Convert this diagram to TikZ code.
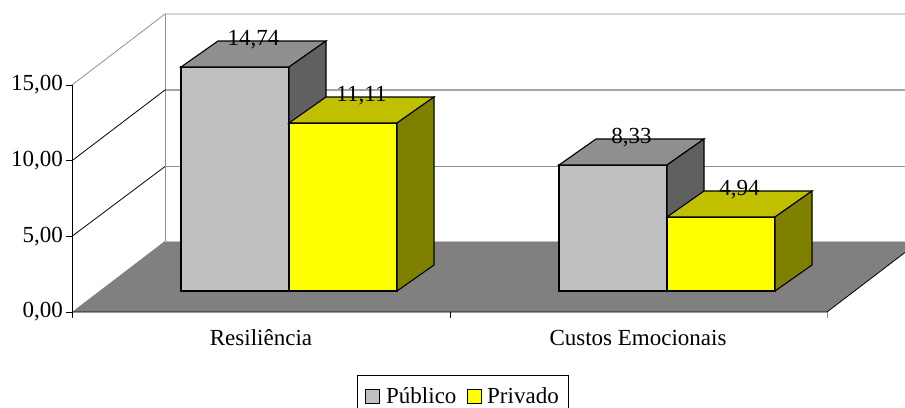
\documentclass[tikz,border=0pt]{standalone}
\usepackage{fontspec}
\setmainfont{Liberation Serif}
\definecolor{pubfront}{HTML}{C0C0C0}
\definecolor{pubtop}{HTML}{8F8F8F}
\definecolor{pubside}{HTML}{606060}
\definecolor{prifront}{HTML}{FFFF00}
\definecolor{pritop}{HTML}{C0C000}
\definecolor{priside}{HTML}{808000}
\definecolor{floorc}{HTML}{808080}
\definecolor{wallline}{HTML}{909090}
\newcommand\drawbar[5]{%
  \filldraw[barline, fill=#3] (#1,291) rectangle (#1+108,#2);
  \filldraw[barline, fill=#4] (#1,#2) -- ++(37,-26) -- ++(108,0) -- ++(-37,26) -- cycle;
  \filldraw[barline, fill=#5] (#1+108,#2) -- ++(37,-26) -- (#1+145,265) -- (#1+108,291) -- cycle;
}
\begin{document}
\begin{tikzpicture}[x=1pt,y=-1pt,
  barline/.style={draw=black, line width=1.1pt, line join=miter},
  txt/.style={font=\fontsize{23}{27}\selectfont, inner sep=0pt},
  grid/.style={line width=0.8pt},
  tick/.style={line width=0.8pt, draw=black}]
\useasboundingbox (0,0) rectangle (905,407);
\fill[white] (0,0) rectangle (905,407);
% floor
\fill[floorc] (72,312) -- (165,241) -- (920,241) -- (827,312) -- cycle;
\draw[line width=0.9pt, draw=pubfront] (165,241) -- (920,241);
% walls
\draw[grid, draw=wallline] (72,85) -- (165,14) -- (920,14);
\draw[grid, draw=wallline] (165,14) -- (165,241);
\draw[grid, draw=black] (72,160.7) -- (165,90) -- (920,90);
\draw[grid, draw=black] (72,236.3) -- (165,166.5);
\draw[grid, draw=wallline] (165,166.5) -- (920,166.5);
% axes
\draw[tick] (72,85) -- (72,318);
\draw[tick] (72,312) -- (827,312) -- (920,241);
\draw[tick] (450,312) -- (450,318);
\draw[tick, draw=wallline] (827,312) -- (827,318);
\foreach \yy in {85,160.7,236.3,312} \draw[tick] (66,\yy) -- (72,\yy);
\node[txt, anchor=east] (y0) at (63,312) {0,00};
\node[txt, anchor=east] (y5) at (63,236.3) {5,00};
\node[txt, anchor=east] (y10) at (63,160.7) {10,00};
\node[txt, anchor=east] (y15) at (63,85) {15,00};
% bars
\drawbar{181}{67}{pubfront}{pubtop}{pubside}
\drawbar{289}{123}{prifront}{pritop}{priside}
\drawbar{559}{165}{pubfront}{pubtop}{pubside}
\drawbar{667}{217}{prifront}{pritop}{priside}
% value labels
\node[txt] (v1) at (253.5,40) {14,74};
\node[txt] (v2) at (361.5,96) {11,11};
\node[txt] (v3) at (631.5,138) {8,33};
\node[txt] (v4) at (739.5,190) {4,94};
% category labels
\node[txt, anchor=base] (c1) at (261,345) {Resiliência};
\node[txt, anchor=base] (c2) at (638,345) {Custos Emocionais};
% legend
\draw[line width=0.8pt] (357,375) rectangle (568,420);
\filldraw[draw=black, line width=0.9pt, fill=pubfront] (365,389) rectangle (379,403);
\filldraw[draw=black, line width=0.9pt, fill=prifront] (467,389) rectangle (481,403);
\node[txt, anchor=base west] (l1) at (386,403) {Público};
\node[txt, anchor=base west] (l2) at (487,403) {Privado};
\end{tikzpicture}
\end{document}
